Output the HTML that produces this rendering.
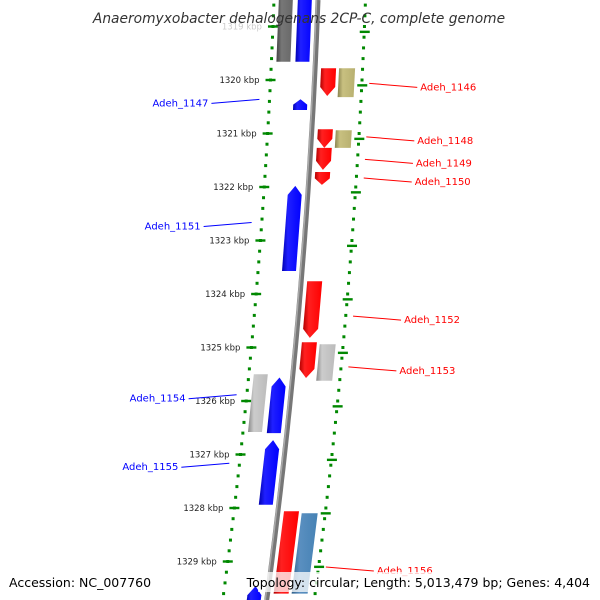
<!DOCTYPE html>
<html><head><meta charset="utf-8"><style>
html,body{margin:0;padding:0;background:#fff;}
svg{display:block;font-family:"DejaVu Sans","Liberation Sans",sans-serif;}
</style></head><body>
<svg id="map" width="600" height="600" viewBox="0 0 600 600" xmlns="http://www.w3.org/2000/svg">
<defs>
<linearGradient id="gr" x1="0" x2="1"><stop offset="0" stop-color="#b00000"/><stop offset="0.3" stop-color="#ff2020"/><stop offset="1" stop-color="#ff0000"/></linearGradient>
<linearGradient id="gb" x1="0" x2="1"><stop offset="0" stop-color="#0000b0"/><stop offset="0.3" stop-color="#2020ff"/><stop offset="1" stop-color="#0000ff"/></linearGradient>
<linearGradient id="gk" x1="0" x2="1"><stop offset="0" stop-color="#8a8450"/><stop offset="0.3" stop-color="#c8c080"/><stop offset="1" stop-color="#b8b070"/></linearGradient>
<linearGradient id="gg" x1="0" x2="1"><stop offset="0" stop-color="#888"/><stop offset="0.3" stop-color="#ccc"/><stop offset="1" stop-color="#bbb"/></linearGradient>
<linearGradient id="gd" x1="0" x2="1"><stop offset="0" stop-color="#444"/><stop offset="0.3" stop-color="#777"/><stop offset="1" stop-color="#666"/></linearGradient>
<linearGradient id="gs" x1="0" x2="1"><stop offset="0" stop-color="#2e5e88"/><stop offset="0.3" stop-color="#5a8fc0"/><stop offset="1" stop-color="#4682b4"/></linearGradient>
</defs>
<g id="tracks"></g><g id="genes"></g><g id="labels"></g>
<text x="299" y="23" text-anchor="middle" font-size="13.8" font-style="italic" fill="#333">Anaeromyxobacter dehalogenans 2CP-C, complete genome</text>
<text x="9" y="587" font-size="12.5" fill="#000">Accession: NC_007760</text>
<rect x="258" y="572" width="334" height="20" fill="#fff" fill-opacity="0.75"/>
<text x="590" y="587" text-anchor="end" font-size="12.5" fill="#000">Topology: circular; Length: 5,013,479 bp; Genes: 4,404</text>
</svg>
<script>
const geneStart=[1318.0,1318.0,1319.78,1319.78,1320.36,1320.92,1320.94,1321.27,1321.72,1321.98,1323.76,1324.90,1324.94,1325.50,1325.56,1326.73,1328.06,1328.10,1329.46];
const geneEnd=[1319.66,1319.66,1320.30,1320.32,1320.56,1321.27,1321.27,1321.68,1321.96,1323.57,1324.82,1325.57,1325.62,1326.58,1326.60,1327.94,1329.6,1329.6,1329.8];
const geneLane=[-2,-1,1,2,-1,1,2,1,1,-1,1,1,2,-2,-1,-1,1,2,-1];
const geneColor=['gd','gb','gr','gk','gb','gr','gk','gr','gr','gb','gr','gr','gg','gg','gb','gb','gr','gs','gb'];
const geneArrow=['none','none','down','none','up','down','none','down','down','up','down','down','none','none','up','up','none','none','up'];
const tickKbp=[1319,1320,1321,1322,1323,1324,1325,1326,1327,1328,1329];
const labelNames=['Adeh_1146','Adeh_1147','Adeh_1148','Adeh_1149','Adeh_1150','Adeh_1151','Adeh_1152','Adeh_1153','Adeh_1154','Adeh_1155','Adeh_1156'];
const labelKbp=[1320.1,1320.4,1321.1,1321.52,1321.87,1322.7,1324.45,1325.4,1325.92,1327.2,1329.14];
const labelSide=[1,-1,1,1,1,-1,1,1,-1,-1,1];

const NS='http://www.w3.org/2000/svg';
function yOf(k){return 80+(k-1320)*53.5;}
function cx(y){return 318-0.037*y-0.0000807*y*y;}
const laneOff={'-2':[-39,-25],'-1':[-20,-6],'1':[6,21],'2':[24,40]};
function mk(tag,attrs,parent){const e=document.createElementNS(NS,tag);for(const k in attrs)e.setAttribute(k,attrs[k]);parent.appendChild(e);return e;}
const tracks=document.getElementById('tracks'),genes=document.getElementById('genes'),labels=document.getElementById('labels');

// backbone
let bbPts=[],bbPts2=[];
for(let y=0;y<=600;y+=10){bbPts.push(cx(y).toFixed(1)+','+y);bbPts2.push((cx(y)-1.5).toFixed(1)+','+y);}
let bb=mk('polyline',{points:bbPts.join(' '),fill:'none',stroke:'#777','stroke-width':5},tracks);


mk('polyline',{points:bbPts2.join(' '),fill:'none',stroke:'#aaa','stroke-width':1.5},tracks);
// dotted tracks
for(let k=1318.6;k<1330.2;k+=0.2){
  const y=yOf(k);
  const d1=mk('rect',{x:cx(y)-45.5,y:y-1.5,width:3,height:3,fill:'#080'},tracks);
  
  
  const d2=mk('rect',{x:cx(y)+46,y:y-1.5,width:3,height:3,fill:'#080'},tracks);
  
  
}
tickKbp.forEach(k=>{
  const y=yOf(k);
  const t=mk('rect',{x:cx(y)-49,y:y-1.2,width:10,height:2.4,fill:'#080'},tracks);
  
  
  const y2=yOf(k+0.1);
  mk('rect',{x:cx(y2)+43,y:y2-1.2,width:10,height:2.4,fill:'#080'},tracks);
  const tx=mk('text',{x:cx(y)-55,y:y+3,'text-anchor':'end','font-size':8.5,fill:k===1319?'#ccc':'#222'},tracks);
  tx.textContent=k+' kbp';
  
  
});
// genes
for(let i=0;i<geneStart.length;i++){
  const y1=yOf(geneStart[i]),y2=yOf(geneEnd[i]);const o=laneOff[String(geneLane[i])];
  const a=(x,y)=>(cx(y)+x).toFixed(1)+','+y.toFixed(1);
  let pts;const h=Math.min(9,(y2-y1)*0.5);const m=(o[0]+o[1])/2;
  if(geneArrow[i]==='down') pts=[a(o[0],y1),a(o[1],y1),a(o[1],y2-h),a(m,y2),a(o[0],y2-h)];
  else if(geneArrow[i]==='up') pts=[a(m,y1),a(o[1],y1+h),a(o[1],y2),a(o[0],y2),a(o[0],y1+h)];
  else pts=[a(o[0],y1),a(o[1],y1),a(o[1],y2),a(o[0],y2)];
  const p=mk('polygon',{points:pts.join(' '),fill:'url(#'+geneColor[i]+')'},genes);
  
  
}
// labels
for(let i=0;i<labelNames.length;i++){
  const y=yOf(labelKbp[i]);const s=labelSide[i];const col=s>0?'#f00':'#00f';
  const x0=s>0?cx(y)+55:cx(y)-54;const x1=x0+s*48;
  const ln=mk('line',{x1:x0,y1:y-2,x2:x1,y2:y+2,stroke:col,'stroke-width':1},labels);
  
  
  const t=mk('text',{x:x1+s*3,y:y+5,'text-anchor':s>0?'start':'end','font-size':10,fill:col},labels);
  t.textContent=labelNames[i];
  
  
}
</script>
</body></html>
